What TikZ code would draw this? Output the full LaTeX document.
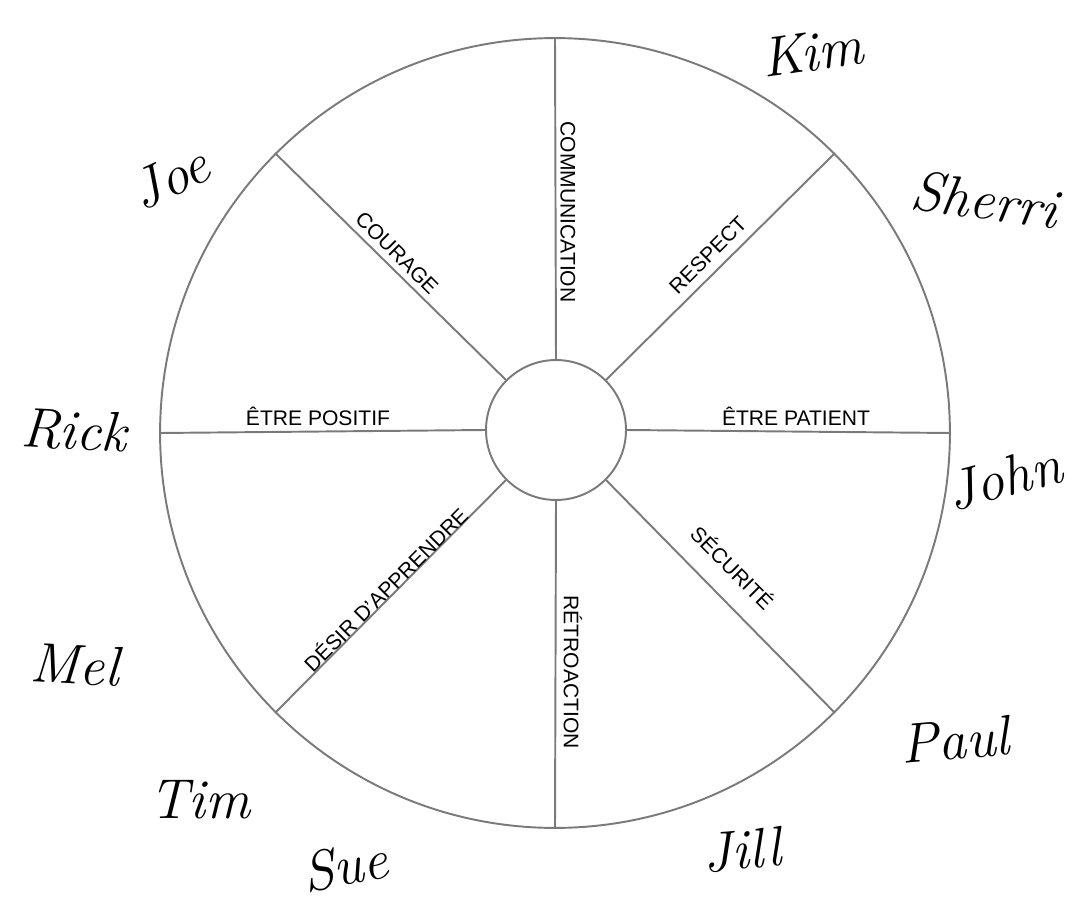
\documentclass[tikz,border=0pt]{standalone}
\usepackage{fontspec}
\setmainfont{Liberation Sans}
\usepackage{tikz}
\usepackage{xcolor}
\definecolor{rimgray}{HTML}{7A7A7A}
\newcommand{\hand}[1]{{\fontspec{Latin Modern Roman}\itshape #1}}

\begin{document}
\begin{tikzpicture}[x=0.02cm, y=-0.02cm,
    wheel/.style={draw=rimgray, line width=1.1pt, circle, inner sep=0pt},
    spoke/.style={draw=rimgray, line width=1.1pt},
    virtue/.style={font=\fontsize{12}{13}\selectfont, inner sep=1pt},
    signature/.style={font=\fontsize{32}{34}\selectfont, inner sep=0pt}]
      \useasboundingbox (0,0) rectangle (1073,903);

      % Outer wheel and the hub in the middle
      \node[wheel, minimum size=15.8cm] (Rim) at (555,433) {};
      \node[wheel, minimum size=2.8cm] (Hub) at (556,430) {};

      % Eight spokes from the hub out to the rim
      \foreach \a in {0,45,...,315}
        \draw[spoke] (Hub.\a) -- (Rim.\a);

      % Values written along the spokes
      \node[virtue, rotate=-90] (Comm) at (568,212) {COMMUNICATION};
      \node[virtue, rotate=45] (Resp) at (708,255) {RESPECT};
      \node[virtue] (Pat) at (796,416) {ÊTRE PATIENT};
      \node[virtue, rotate=-45] (Secu) at (733,567) {SÉCURITÉ};
      \node[virtue, rotate=-90] (Retro) at (573,672) {RÉTROACTION};
      \node[virtue, rotate=45] (Desir) at (385,589) {DÉSIR D'APPRENDRE};
      \node[virtue] (Pos) at (318,416) {ÊTRE POSITIF};
      \node[virtue, rotate=-45] (Cour) at (397,253) {COURAGE};

      % Signatures round the wheel
      \node[signature, rotate=8] (Kim) at (812,52) {\hand{Kim}};
      \node[signature, rotate=-8] (Sherri) at (985,200) {\hand{Sherri}};
      \node[signature, rotate=15] (John) at (1004,478) {\hand{John}};
      \node[signature, rotate=5] (Paul) at (955,740) {\hand{Paul}};
      \node[signature, rotate=5] (Jill) at (742,850) {\hand{Jill}};
      \node[signature, rotate=10] (Sue) at (345,866) {\hand{Sue}};
      \node[signature] (Tim) at (200,800) {\hand{Tim}};
      \node[signature, rotate=-3] (Mel) at (75,665) {\hand{Mel}};
      \node[signature, rotate=-3] (Rick) at (74,430) {\hand{Rick}};
      \node[signature, rotate=25] (Joe) at (170,178) {\hand{Joe}};
    \end{tikzpicture}
\end{document}
